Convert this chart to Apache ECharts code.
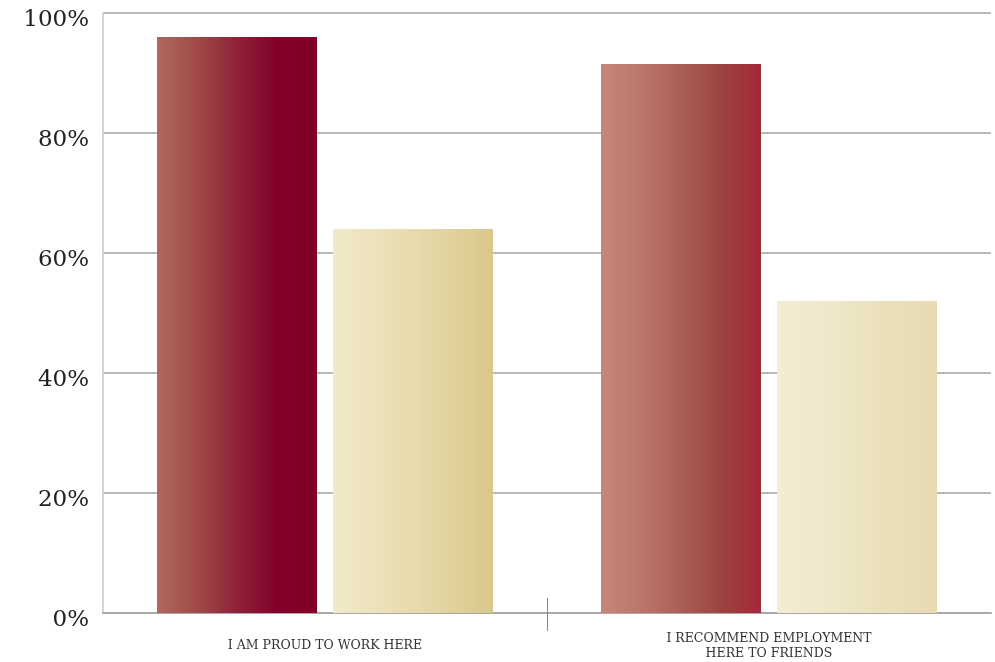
<!DOCTYPE html>
<html>
<head>
<meta charset="utf-8">
<script src="https://cdn.jsdelivr.net/npm/echarts@6/dist/echarts.min.js"></script>
<style>html,body{margin:0;padding:0;background:#fff}#c{width:995px;height:662px}</style>
</head>
<body>
<div id="c"></div>
<script>
var categories = ['I AM PROUD TO WORK HERE', 'I RECOMMEND EMPLOYMENT\nHERE TO FRIENDS'];
var seriesA = [96, 91.5];
var seriesB = [64, 52];
var yTicks = [0, 20, 40, 60, 80, 100];

function grad(stops) {
  return new echarts.graphic.LinearGradient(0, 0, 1, 0, stops.map(function (c, i) {
    return { offset: i / (stops.length - 1), color: c };
  }));
}
var gradA = [
  grad(['#b2685c', '#a04a48', '#8e2238', '#82002a', '#800026']),
  grad(['#c4867b', '#bb766c', '#ab5e56', '#9b4440', '#a3283a'])
];
var gradB = [
  grad(['#f1e9ca', '#ebe0b6', '#e3d5a2', '#d9c78a']),
  grad(['#f3edd5', '#efe7c9', '#eae0bb', '#e6dbb1'])
];

var chart = echarts.init(document.getElementById('c'));
chart.setOption({
  animation: false,
  backgroundColor: '#ffffff',
  grid: { left: 103, right: 4, top: 13, bottom: 49, containLabel: false },
  xAxis: [{
    type: 'category',
    data: categories,
    axisLine: { show: true, lineStyle: { color: '#a8a8a8', width: 2 } },
    axisTick: { show: false },
    axisLabel: { fontFamily: 'DejaVu Serif', fontSize: 12.5, color: '#333', margin: 33, lineHeight: 15, verticalAlign: 'middle' }
  }, {
    type: 'value',
    min: 0, max: 2,
    position: 'bottom',
    axisLine: { show: false },
    splitLine: { show: false },
    axisTick: { show: true, customValues: [1], length: 18, lineStyle: { color: '#888', width: 1 } },
    axisLabel: { show: false }
  }, {
    type: 'value',
    min: 0, max: 2,
    position: 'bottom',
    axisLine: { show: false },
    splitLine: { show: false },
    axisTick: { show: true, inside: true, customValues: [1], length: 15, lineStyle: { color: '#888', width: 1 } },
    axisLabel: { show: false }
  }],
  yAxis: {
    type: 'value',
    min: 0, max: 100, interval: 20,
    axisLine: { show: true, lineStyle: { color: '#c8c8c8', width: 1.5 } },
    axisTick: { show: false },
    splitLine: { show: true, lineStyle: { color: '#b8b8b8', width: 2 } },
    axisLabel: {
      formatter: function (v) { return yTicks.indexOf(v) >= 0 ? v + '%' : ''; },
      fontFamily: 'DejaVu Serif', fontSize: 23, color: '#222', margin: 14,
      verticalAlign: 'top', padding: [-4, 0, 0, 0]
    }
  },
  series: [{
    type: 'bar',
    xAxisIndex: 0,
    barWidth: 160,
    barGap: '10%',
    data: seriesA.map(function (v, i) { return { value: v, itemStyle: { color: gradA[i] } }; })
  }, {
    type: 'bar',
    xAxisIndex: 0,
    barWidth: 160,
    barGap: '10%',
    data: seriesB.map(function (v, i) { return { value: v, itemStyle: { color: gradB[i] } }; })
  }]
});
</script>
</body>
</html>
